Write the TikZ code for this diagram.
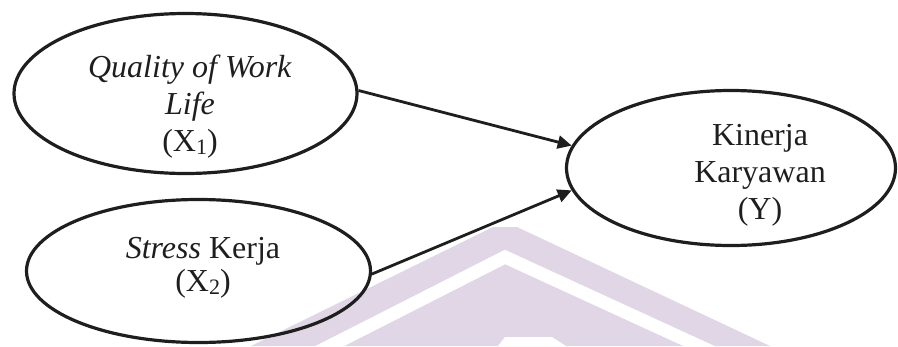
\documentclass[tikz,border=0pt]{standalone}
\usepackage{fontspec}
\setmainfont{Liberation Serif}
\usetikzlibrary{shapes.geometric,arrows.meta}
\definecolor{wm}{RGB}{224,214,230}
\definecolor{ink}{RGB}{30,30,30}
\newcommand{\lowsub}[1]{\raisebox{-2.5pt}{\fontsize{22}{22}\selectfont #1}}
\tikzset{
  var/.style={draw=ink, line width=3.2pt, ellipse, inner sep=0pt, fill=none},
  lbl/.style={text=ink, align=center, inner sep=0pt, font=\fontsize{32}{37}\selectfont},
  path1/.style={draw=ink, line width=2.8pt, -{Triangle[length=14pt,width=13pt]}},
}
\begin{document}
\begin{tikzpicture}[x=1pt,y=-1pt]
\useasboundingbox (0,0) rectangle (898,346);
% watermark
\fill[wm] (251,346) -- (493,227) -- (517,227) -- (770,346) -- cycle;
\draw[white, line width=13pt, line join=miter] (318,352) -- (505,257) -- (712,352);
\fill[white] (498,346) -- (505,337) -- (552,337) -- (566,346) -- cycle;
% ellipses
\node[var, minimum width=343pt, minimum height=160pt] (x1) at (185.5,93.5) {};
\node[var, minimum width=344pt, minimum height=143pt] (x2) at (198.5,271) {};
\node[var, minimum width=329pt, minimum height=155pt] (y) at (731,168) {};
% labels
\node[lbl] (x1t) at (190,107) {\textit{Quality of Work}\\\textit{Life}\\(X\lowsub{1})};
\node[lbl, font=\fontsize{32}{33}\selectfont] (x2t) at (203,268) {\textit{Stress} Kerja\\(X\lowsub{2})};
\node[lbl] (yt) at (760,175) {Kinerja\\Karyawan\\(Y)};
% paths
\draw[path1] (x1.1) -- (y.172);
\draw[path1] (x2.-1) -- (y.188);
\end{tikzpicture}
\end{document}
